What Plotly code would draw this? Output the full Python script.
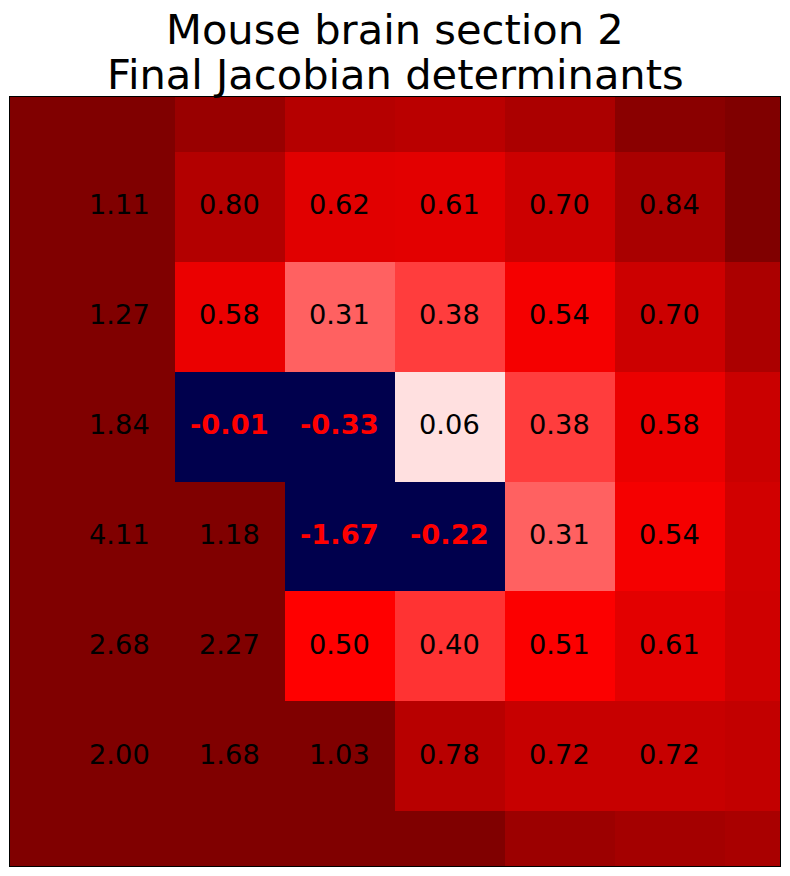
#!/usr/bin/env python3
import plotly.graph_objects as go

title_lines = ["Mouse brain section 2", "Final Jacobian determinants"]

# rows top to bottom; outer rows/cols have no printed label, read from colour
row0 = [1.20, 1.20, 0.90, 0.79, 0.77, 0.83, 0.96, 1.03]
row1 = [1.40, 1.11, 0.80, 0.62, 0.61, 0.70, 0.84, 1.02]
row2 = [1.70, 1.27, 0.58, 0.31, 0.38, 0.54, 0.70, 0.83]
row3 = [2.50, 1.84, -0.01, -0.33, 0.06, 0.38, 0.58, 0.71]
row4 = [3.00, 4.11, 1.18, -1.67, -0.22, 0.31, 0.54, 0.68]
row5 = [2.00, 2.68, 2.27, 0.50, 0.40, 0.51, 0.61, 0.69]
row6 = [1.50, 2.00, 1.68, 1.03, 0.78, 0.72, 0.72, 0.74]
row7 = [1.30, 1.40, 1.30, 1.10, 1.00, 0.89, 0.86, 0.84]
jacobian = [row0, row1, row2, row3, row4, row5, row6, row7]

# seismic map over -1..1, with anything under 0 flagged as navy
colorscale = [
    [0.0, "#00004d"],
    [0.49999, "#00004d"],
    [0.5, "#ffffff"],
    [0.75, "#ff0000"],
    [1.0, "#800000"],
]

fig = go.Figure(go.Heatmap(
    z=jacobian,
    x=list(range(8)),
    y=list(range(8)),
    zmin=-1,
    zmax=1,
    colorscale=colorscale,
    showscale=False,
    hoverinfo="skip",
))

# labels for inner cells only
for i in range(1, 7):
    for j in range(1, 7):
        v = jacobian[i][j]
        if v < 0:
            font = dict(family="DejaVu Sans", size=27.3, color="#ff0000", weight="bold")
        else:
            font = dict(family="DejaVu Sans", size=27.3, color="#000000")
        fig.add_annotation(x=j, y=i, text=f"{v:.2f}", showarrow=False, font=font,
                           xanchor="center", yanchor="middle", xshift=-1, yshift=2)

# two separate lines, plotly's own line spacing is too wide here
for line, shift in zip(title_lines, [68, 23]):
    fig.add_annotation(xref="paper", yref="paper", x=0.5, y=1.0, yshift=shift, text=line,
                       showarrow=False, xanchor="center", yanchor="middle",
                       font=dict(family="DejaVu Sans", size=41.6, color="#000000"))

fig.update_xaxes(range=[0, 7], showticklabels=False, ticks="", showgrid=False, zeroline=False,
                 showline=True, linecolor="black", linewidth=1, mirror=True)
fig.update_yaxes(range=[7, 0], showticklabels=False, ticks="", showgrid=False, zeroline=False,
                 showline=True, linecolor="black", linewidth=1, mirror=True)
# page body adds 8px, so the canvas is smaller than the window
fig.update_layout(width=774, height=860, margin=dict(l=2, r=2, t=89, b=2),
                  paper_bgcolor="white", plot_bgcolor="white", showlegend=False)

fig.write_html("out.html")
